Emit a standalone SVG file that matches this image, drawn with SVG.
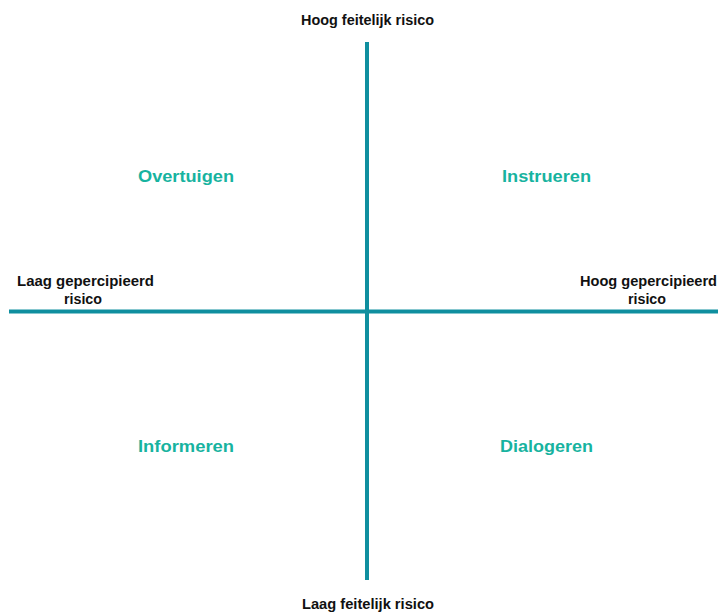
<svg xmlns="http://www.w3.org/2000/svg" width="718" height="612" viewBox="0 0 718 612">
  <style>
    .axis { stroke: #0f8f9f; stroke-width: 4; fill: none; }
    .axis-label { font-family: "Liberation Sans", Arial, sans-serif; font-weight: bold; font-size: 14px; fill: #111111; }
    .quadrant { font-family: "Liberation Sans", Arial, sans-serif; font-weight: bold; font-size: 17px; fill: #17b3a0; }
  </style>
  <rect width="718" height="612" fill="#ffffff"/>

  <!-- axes -->
  <g id="connectors">
    <line class="axis" x1="367" y1="42" x2="367" y2="580"/>
    <line class="axis" x1="9" y1="311.5" x2="718" y2="311.5"/>
  </g>

  <!-- axis end labels -->
  <g id="top-label">
    <text class="axis-label" x="301" y="25" textLength="133" lengthAdjust="spacingAndGlyphs">Hoog feitelijk risico</text>
  </g>
  <g id="bottom-label">
    <text class="axis-label" x="302" y="609" textLength="132" lengthAdjust="spacingAndGlyphs">Laag feitelijk risico</text>
  </g>
  <g id="left-label">
    <text class="axis-label" x="17" y="286" textLength="137" lengthAdjust="spacingAndGlyphs">Laag gepercipieerd</text>
    <text class="axis-label" x="64" y="304" textLength="38" lengthAdjust="spacingAndGlyphs">risico</text>
  </g>
  <g id="right-label">
    <text class="axis-label" x="580" y="286" textLength="137" lengthAdjust="spacingAndGlyphs">Hoog gepercipieerd</text>
    <text class="axis-label" x="628" y="304" textLength="38" lengthAdjust="spacingAndGlyphs">risico</text>
  </g>

  <!-- quadrants -->
  <g id="overtuigen">
    <text class="quadrant" x="138" y="182" textLength="96" lengthAdjust="spacingAndGlyphs">Overtuigen</text>
  </g>
  <g id="instrueren">
    <text class="quadrant" x="502" y="182" textLength="89" lengthAdjust="spacingAndGlyphs">Instrueren</text>
  </g>
  <g id="informeren">
    <text class="quadrant" x="138" y="452" textLength="96" lengthAdjust="spacingAndGlyphs">Informeren</text>
  </g>
  <g id="dialogeren">
    <text class="quadrant" x="500" y="452" textLength="93" lengthAdjust="spacingAndGlyphs">Dialogeren</text>
  </g>
</svg>
